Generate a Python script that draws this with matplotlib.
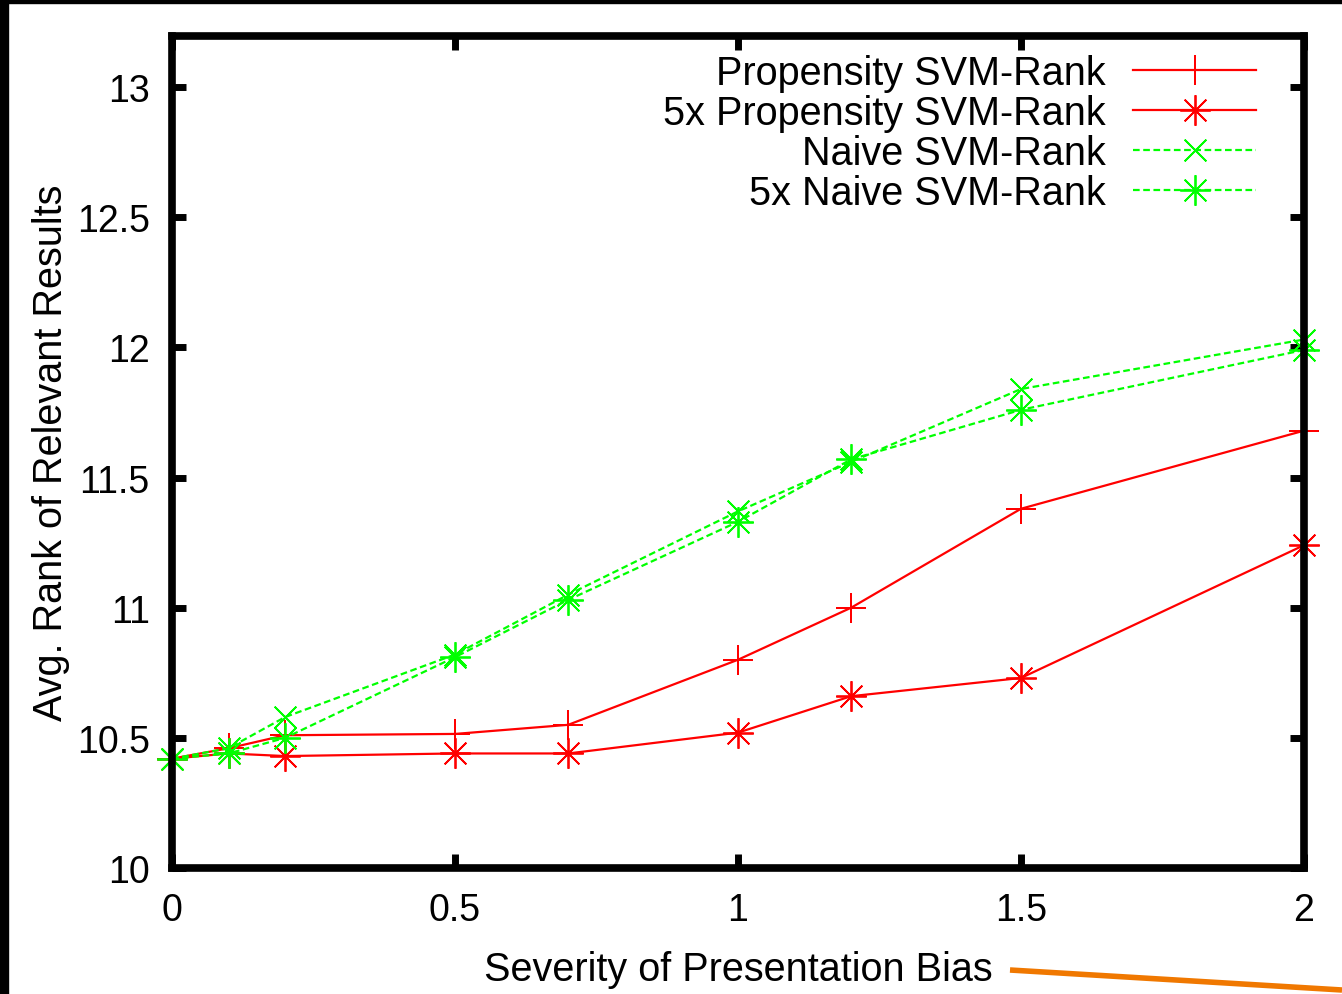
"""Avg. rank of relevant results vs. severity of presentation bias (gnuplot look)."""

import matplotlib

matplotlib.use("Agg")
import matplotlib.pyplot as plt
from matplotlib.lines import Line2D
from matplotlib.patches import Rectangle
from matplotlib.ticker import FormatStrFormatter

plt.rcParams["font.family"] = ["Liberation Sans", "DejaVu Sans"]

SEVERITY = [0, 0.1, 0.2, 0.5, 0.7, 1.0, 1.2, 1.5, 2.0]

PROP_SVM = [10.42, 10.46, 10.51, 10.515, 10.55, 10.80, 11.00, 11.38, 11.68]
PROP_SVM_5X = [10.42, 10.44, 10.43, 10.44, 10.44, 10.52, 10.66, 10.73, 11.24]
NAIVE_SVM = [10.42, 10.46, 10.58, 10.82, 11.05, 11.37, 11.56, 11.84, 12.03]
NAIVE_SVM_5X = [10.42, 10.44, 10.50, 10.81, 11.03, 11.33, 11.57, 11.76, 11.99]

LABELS = [
    "Propensity SVM-Rank",
    "5x Propensity SVM-Rank",
    "Naive SVM-Rank",
    "5x Naive SVM-Rank",
]

RED = "#ff0000"
GREEN = "#00ff00"
PLUS = (4, 2, 0)
STAR = (8, 2, 0)
CROSS = (4, 2, 45)
DASH = (0, (3, 1.6))

STYLES = [
    dict(color=RED, marker=PLUS, linestyle="-"),
    dict(color=RED, marker=STAR, linestyle="-"),
    dict(color=GREEN, marker=CROSS, linestyle=DASH),
    dict(color=GREEN, marker=STAR, linestyle=DASH),
]

W, H, DPI = 1342, 995, 100
FS = 28.5
TICK_FS = 27

fig = plt.figure(figsize=(W / DPI, H / DPI), dpi=DPI)
ax = fig.add_axes([172 / W, 1 - 869 / H, (1304 - 172) / W, (869 - 37) / H])

for values, label, style in zip([PROP_SVM, PROP_SVM_5X, NAIVE_SVM, NAIVE_SVM_5X], LABELS, STYLES):
    ax.plot(SEVERITY, values, label=label, linewidth=1.6, markersize=22,
            markeredgewidth=1.3, clip_on=False, **style)

ax.set_xlim(0, 2)
ax.set_ylim(10, 13.196)
ax.set_xticks([0, 0.5, 1, 1.5, 2])
ax.set_yticks([10, 10.5, 11, 11.5, 12, 12.5, 13])
ax.xaxis.set_major_formatter(FormatStrFormatter("%g"))
ax.yaxis.set_major_formatter(FormatStrFormatter("%g"))
ax.tick_params(direction="in", length=10, width=5, labelsize=TICK_FS,
               top=True, right=True)
ax.tick_params(axis="x", pad=17)
ax.tick_params(axis="y", pad=16)
for spine in ax.spines.values():
    spine.set_linewidth(5.5)

ax.set_xlabel("Severity of Presentation Bias", fontsize=FS, labelpad=16)
ax.set_ylabel("Avg. Rank of Relevant Results", fontsize=FS, labelpad=5)

ax.legend(loc="upper right", bbox_to_anchor=(0.982, 1.012), frameon=False,
          markerfirst=False, fontsize=FS, handlelength=3.1, handletextpad=0.7,
          labelspacing=0.05, borderaxespad=0.3)

# screenshot edges and the stray orange stroke
fig.patches.append(Rectangle((0, 1 - 4 / H), 1, 4 / H, transform=fig.transFigure,
                             color="black", zorder=10))
fig.patches.append(Rectangle((0, 0), 8 / W, 1, transform=fig.transFigure,
                             color="black", zorder=10))
fig.lines.append(Line2D([1010 / W, 1], [1 - 971 / H, 1 - 991 / H], transform=fig.transFigure,
                        color="#f07800", linewidth=4, solid_capstyle="butt"))

fig.savefig("out.png", dpi=DPI)
